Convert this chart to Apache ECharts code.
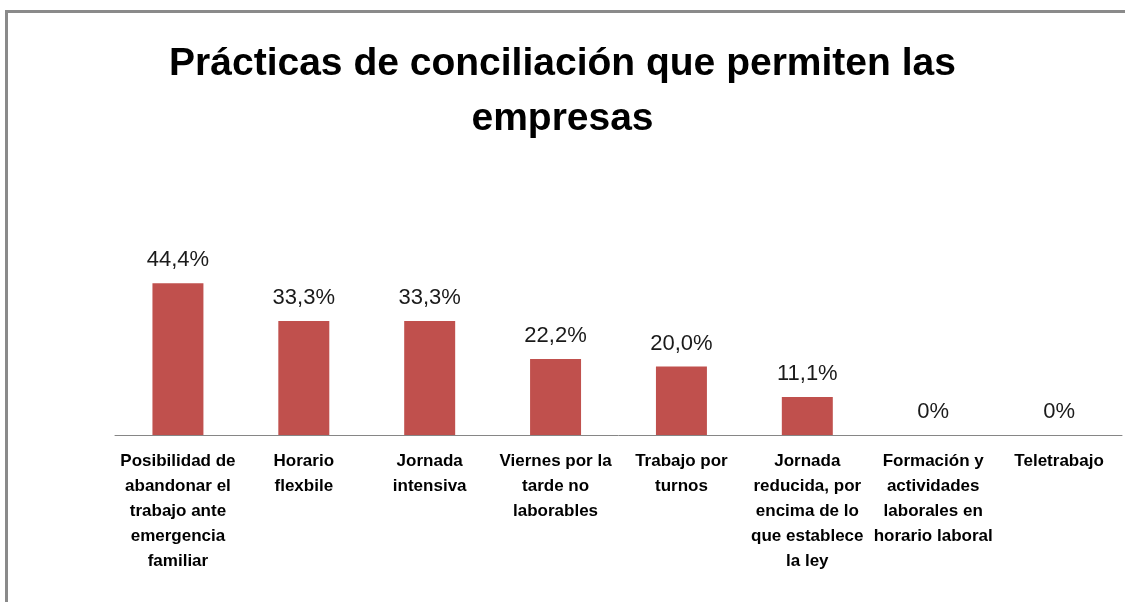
<!DOCTYPE html>
<html>
<head>
<meta charset="utf-8">
<script src="https://cdn.jsdelivr.net/npm/echarts@6/dist/echarts.min.js"></script>
<style>
  html, body { margin: 0; padding: 0; background: #fff; }
  #chart { width: 1125px; height: 602px; }
</style>
</head>
<body>
<div id="chart"></div>
<script>
// Datos del gráfico
const categories = [
  'Posibilidad de\nabandonar el\ntrabajo ante\nemergencia\nfamiliar',
  'Horario\nflexbile',
  'Jornada\nintensiva',
  'Viernes por la\ntarde no\nlaborables',
  'Trabajo por\nturnos',
  'Jornada\nreducida, por\nencima de lo\nque establece\nla ley',
  'Formación y\nactividades\nlaborales en\nhorario laboral',
  'Teletrabajo'
]
const values = [44.4, 33.3, 33.3, 22.2, 20.0, 11.1, 0, 0]
const titleText = 'Prácticas de conciliación que permiten las\nempresas'

// 44.4 -> "44,4%", 0 -> "0%"
const fmtPct = (v) => (v === 0 ? '0%' : v.toFixed(1).replace('.', ',') + '%')

const chart = echarts.init(document.getElementById('chart'), null, { renderer: 'canvas' })

chart.setOption({
  animation: false,
  backgroundColor: '#ffffff',
  title: {
    text: titleText,
    left: 'center',
    top: 37,
    padding: 0,
    textStyle: {
      fontFamily: 'Liberation Sans',
      fontWeight: 'bold',
      fontSize: 39,
      lineHeight: 55,
      color: '#000000'
    }
  },
  // marco gris del área del gráfico
  graphic: [{
    type: 'rect',
    silent: true,
    shape: { x: 6.5, y: 11.5, width: 1300, height: 800 },
    style: { fill: 'none', stroke: '#8a8a8a', lineWidth: 3 }
  }],
  grid: { left: 115, right: 3, top: 264, bottom: 167 },
  xAxis: {
    type: 'category',
    data: categories,
    axisLine: { show: true, lineStyle: { color: '#868686', width: 1 } },
    axisTick: { show: false },
    axisLabel: {
      interval: 0,
      margin: 14,
      color: '#000000',
      fontFamily: 'Liberation Sans',
      fontWeight: 'bold',
      fontSize: 17,
      lineHeight: 25,
      align: 'center'
    }
  },
  yAxis: {
    type: 'value',
    min: 0,
    max: 50,
    show: false
  },
  series: [{
    type: 'bar',
    data: values,
    barWidth: '40.5%',
    itemStyle: { color: '#c0504d' },
    label: {
      show: true,
      position: 'top',
      distance: 12,
      color: '#1a1a1a',
      fontFamily: 'Liberation Sans',
      fontSize: 22,
      lineHeight: 22,
      formatter: (p) => fmtPct(p.value)
    }
  }]
})
</script>
</body>
</html>
